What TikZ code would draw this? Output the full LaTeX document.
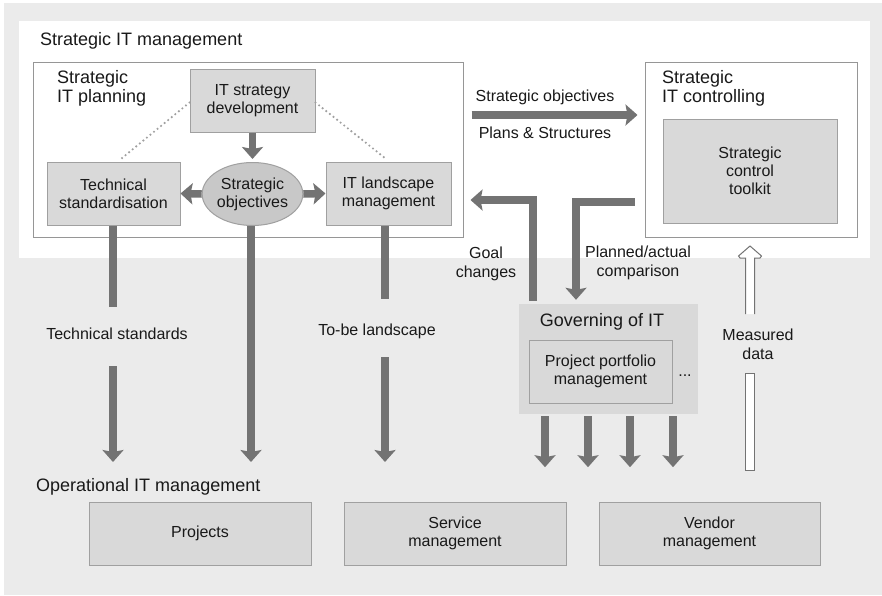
\documentclass[tikz,border=0pt]{standalone}
\usepackage{fontspec}
\setmainfont{Liberation Sans}
\usetikzlibrary{arrows.meta,shapes.geometric,calc}
\definecolor{bggray}{RGB}{235,235,235}
\definecolor{boxfill}{RGB}{217,217,217}
\definecolor{boxdraw}{RGB}{160,160,160}
\definecolor{outerdraw}{RGB}{150,150,150}
\definecolor{ellfill}{RGB}{200,200,200}
\definecolor{arrowgray}{RGB}{115,115,115}
\definecolor{txt}{RGB}{25,25,25}
\begin{document}
\begin{tikzpicture}[x=1pt,y=-1pt,
  box/.style={draw=boxdraw, fill=boxfill, line width=1pt, inner sep=0pt, align=center,
    font=\fontsize{16}{18}\selectfont, text=txt},
  outerbox/.style={draw=outerdraw, fill=white, line width=1pt, inner sep=0pt},
  bigtxt/.style={font=\fontsize{18}{19.5}\selectfont, text=txt, inner sep=0pt, align=left},
  lbl/.style={font=\fontsize{16}{19}\selectfont, text=txt, inner sep=0pt, align=center},
  bigarrow/.style={draw=arrowgray, line width=7.5pt, -{Stealth[length=12pt,width=21pt,inset=2pt]}},
  bigline/.style={draw=arrowgray, line width=7.5pt},
  dotline/.style={draw=boxdraw, line width=2.4pt, line cap=round, dash pattern=on 0pt off 4.6pt}
]
\useasboundingbox (0,0) rectangle (882,595);
\fill[bggray] (4,3) rectangle (882,595);
\fill[white] (19,21) rectangle (870,258);

% strategic IT management
\node[bigtxt, anchor=west] (sitm) at (40,41) {Strategic IT management};

% planning box
\node[outerbox, minimum width=430pt, minimum height=175pt] (plan) at (248,149.5) {};
\node[bigtxt, anchor=north west] (planlbl) at (57,70) {Strategic\\IT planning};
\node[box, minimum width=125pt, minimum height=63pt] (isd) at (252.5,100.5) {IT strategy\\development};
\node[box, minimum width=133pt, minimum height=63pt] (tsd) at (113.5,193.5) {Technical\\standardisation};
\node[box, ellipse, fill=ellfill, minimum width=90pt, minimum height=63pt] (obj) at (252.5,194) {Strategic\\objectives};
\node[box, minimum width=125pt, minimum height=63pt] (ilm) at (388.5,193.5) {IT landscape\\management};

\draw[dotline] ([yshift=-2pt]isd.west) -- ([shift={(8,-3)}]tsd.north);
\draw[dotline] ([yshift=-2pt]isd.east) -- ([shift={(-3,-3)}]ilm.north);
\draw[bigarrow] (isd.south) -- ([shift={(0,-3)}]obj.north);
\draw[bigarrow] (obj.west) -- (tsd.east);
\draw[bigarrow] (obj.east) -- (ilm.west);

% controlling box
\node[outerbox, minimum width=212pt, minimum height=175pt] (ctrl) at (751,149.5) {};
\node[bigtxt, anchor=north west] (ctrllbl) at (662,70) {Strategic\\IT controlling};
\node[box, minimum width=174pt, minimum height=104pt] (sct) at (750,171) {Strategic\\control\\toolkit};

% strategic objectives arrow
\node[lbl] (soA) at (545,97) {Strategic objectives};
\node[lbl] (soB) at (545,133) {Plans \& Structures};
\draw[bigarrow] ([shift={(8,-34.5)}]plan.east) -- ([shift={(-7,-34.5)}]ctrl.west);

% governing
\node[fill=boxfill, minimum width=179pt, minimum height=110pt, inner sep=0pt] (gov) at (608.5,359) {};
\node[bigtxt] (govlbl) at (602,322) {Governing of IT};
\node[box, minimum width=143pt, minimum height=63pt] (ppm) at (600.5,371.5) {Project portfolio\\management};
\node[lbl] (dots) at (685,376) {...};

\draw[bigarrow] ([shift={(-75.5,-3)}]gov.north) |- ([shift={(7,50.5)}]plan.east);
\draw[bigarrow] ([shift={(-10,52.5)}]ctrl.west) -| ([shift={(-32.5,-4)}]gov.north);
\node[lbl] (goal) at (486,264) {Goal\\changes};
\node[lbl] (pac) at (638,263) {Planned/actual\\comparison};

\foreach \dx/\n in {-63.5/1,-20.5/2,21.5/3,64.5/4}{
  \coordinate (g\n) at ($(gov.south)+(\dx,53)$);
  \draw[bigarrow] ([shift={(\dx,2)}]gov.south) -- (g\n);
}

% vertical flows
\node[lbl] (tslbl) at (117,334) {Technical standards};
\coordinate (ts1) at (113,307);
\coordinate (ts2) at (113,366);
\coordinate (ts3) at (113,462);
\draw[bigline] (tsd.south -| ts1) -- (ts1);
\draw[bigarrow] (ts2) -- (ts3);

\coordinate (ob1) at (251,462);
\draw[bigarrow] (obj.south -| ob1) -- (ob1);

\node[lbl] (tblbl) at (377,331) {To-be landscape};
\coordinate (tb1) at (385,299);
\coordinate (tb2) at (385,357);
\coordinate (tb3) at (385,462);
\draw[bigline] (ilm.south -| tb1) -- (tb1);
\draw[bigarrow] (tb2) -- (tb3);

% measured data hollow arrow
\node[lbl] (mdlbl) at (758,344) {Measured\\data};
\draw[draw=arrowgray, fill=white, line width=1pt, line join=miter]
  (745.5,314) -- (745.5,258) -- (740,258) -- (738.5,256) -- (750,246) -- (761.5,256) -- (760,258) -- (754.5,258) -- (754.5,314);
\draw[draw=arrowgray, fill=white, line width=1pt]
  (745.5,373) rectangle (754.5,470);

% operational
\node[bigtxt, anchor=west] (opl) at (36,487) {Operational IT management};
\node[box, minimum width=222pt, minimum height=63pt] (proj) at (200,533.5) {Projects};
\node[box, minimum width=222pt, minimum height=63pt] (serv) at (455,533.5) {Service\\management};
\node[box, minimum width=221pt, minimum height=63pt] (vend) at (709.5,533.5) {Vendor\\management};
\end{tikzpicture}
\end{document}
